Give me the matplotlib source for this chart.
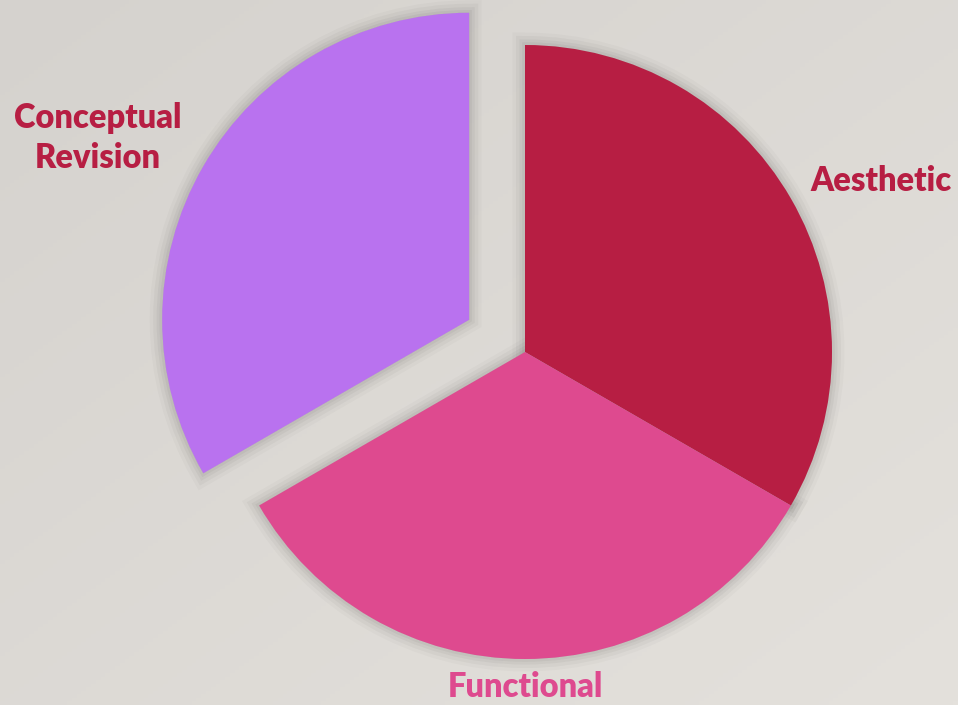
import numpy as np
import matplotlib.pyplot as plt
import matplotlib.patheffects as pe

# slice data
labels = ["Aesthetic", "Functional", "Conceptual\nRevision"]
values = [1, 1, 1]
colors = ["#b71e43", "#de4a8f", "#b972ef"]
label_colors = ["#b71e43", "#de4a8f", "#b71e43"]
explode = [0, 0, 0.21]

plt.rcParams['font.family'] = ['Lato', 'DejaVu Sans']

W, H = 958, 705
cx, cy, R = 525, 352, 307

fig = plt.figure(figsize=(W / 100, H / 100), dpi=100)
ax = fig.add_axes([0, 0, 1, 1])

# background gradient
yy, xx = np.mgrid[0:1:200j, 0:1:200j]
g = 0.5 * xx + 0.5 * yy
bg = np.zeros((200, 200, 3))
c0 = np.array([0xd5, 0xd2, 0xce]) / 255
c1 = np.array([0xe4, 0xe1, 0xdc]) / 255
for i in range(3):
    bg[..., i] = c0[i] + (c1[i] - c0[i]) * g
xl = (-cx / R, (W - cx) / R)
yl = (-(H - cy) / R, cy / R)
ax.imshow(bg, extent=(xl[0], xl[1], yl[0], yl[1]), origin="upper", zorder=0, aspect="auto")

# soft shadow
shadow = [pe.Stroke(linewidth=w, foreground="#000000", alpha=a)
          for w, a in [(18, 0.02), (13, 0.03), (8, 0.035), (4, 0.04)]]
sw, _ = ax.pie(values, explode=explode, startangle=90, counterclock=False,
               colors=["#999999"] * 3, radius=1)
for w in sw:
    w.set_path_effects(shadow)
    w.set_zorder(1)

wedges, _ = ax.pie(values, explode=explode, startangle=90, counterclock=False,
                   colors=colors, radius=1)
for w in wedges:
    w.set_zorder(2)

ax.set_xlim(*xl)
ax.set_ylim(*yl)
ax.set_aspect("equal")
ax.axis("off")

def px(x, y):
    return ((x - cx) / R, (cy - y) / R)

label_pos = [(881, 181), (525, 687), (98, 138)]
for lab, col, (x, y) in zip(labels, label_colors, label_pos):
    ax.text(*px(x, y), lab, color=col, fontsize=23.5, fontweight="heavy",
            ha="center", va="center", linespacing=1.3, zorder=3)

fig.savefig("out.png", dpi=100)
